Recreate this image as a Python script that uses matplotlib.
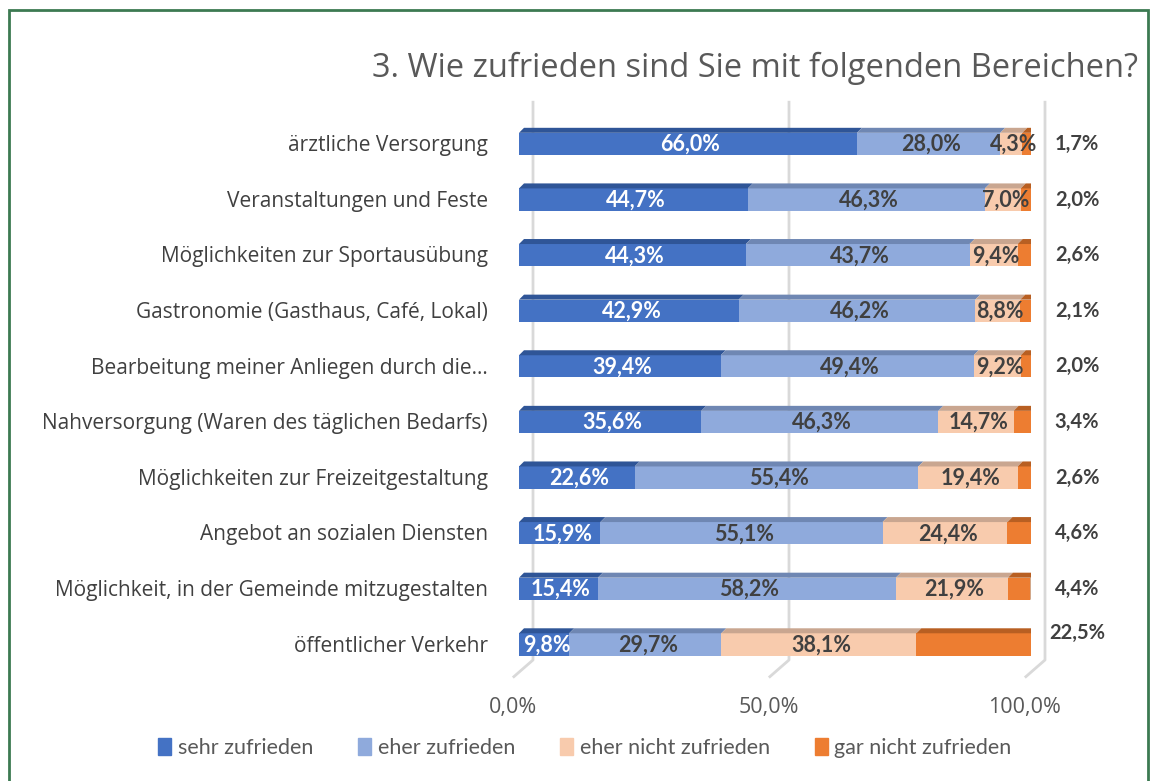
import numpy as np
import matplotlib
matplotlib.use("Agg")
import matplotlib.pyplot as plt
from matplotlib.patches import Patch, Rectangle

categories = [
    "ärztliche Versorgung",
    "Veranstaltungen und Feste",
    "Möglichkeiten zur Sportausübung",
    "Gastronomie (Gasthaus, Café, Lokal)",
    "Bearbeitung meiner Anliegen durch die…",
    "Nahversorgung (Waren des täglichen Bedarfs)",
    "Möglichkeiten zur Freizeitgestaltung",
    "Angebot an sozialen Diensten",
    "Möglichkeit, in der Gemeinde mitzugestalten",
    "öffentlicher Verkehr",
]
sehr = [66.0, 44.7, 44.3, 42.9, 39.4, 35.6, 22.6, 15.9, 15.4, 9.8]
eher = [28.0, 46.3, 43.7, 46.2, 49.4, 46.3, 55.4, 55.1, 58.2, 29.7]
eher_nicht = [4.3, 7.0, 9.4, 8.8, 9.2, 14.7, 19.4, 24.4, 21.9, 38.1]
gar_nicht = [1.7, 2.0, 2.6, 2.1, 2.0, 3.4, 2.6, 4.6, 4.4, 22.5]
series_names = ["sehr zufrieden", "eher zufrieden", "eher nicht zufrieden", "gar nicht zufrieden"]
ticks = [0, 50, 100]
tick_labels = ["0,0%", "50,0%", "100,0%"]

front = ["#4472C4", "#8FAADC", "#F8CBAD", "#ED7D31"]
top = ["#2F5597", "#6F87B3", "#C9A690", "#B85F22"]
side = "#A9561C"
label_col = ["white", "#404040", "#404040", "#404040"]

W, H = 1152, 781
fig = plt.figure(figsize=(W / 100, H / 100), dpi=100)
# axes: x 0..100 -> px 519..1031, y px 100..680
ax = fig.add_axes([519 / W, 1 - 680 / H, 512 / W, 580 / H])
n = len(categories)
y = np.arange(n)
ax.set_xlim(0, 100)
ax.set_ylim(9.64, -0.79)
ax.axis("off")

dx = 5 / 5.12      # depth offset in data units
dy = 5 / 55.6
bh = 0.40
wall = 14 / 5.12

# back wall gridlines
for t in ticks:
    ax.plot([t + wall, t + wall, t - 1.0], [-0.75, 9.28, 9.58], color="#D9D9D9", lw=2, zorder=0,
            clip_on=False)

data = np.array([sehr, eher, eher_nicht, gar_nicht])
left = np.zeros(n)
for k in range(4):
    vals = data[k]
    ax.barh(y, vals, left=left, height=bh, color=front[k], zorder=3)
    for i in range(n):
        x0, x1 = left[i], left[i] + vals[i]
        yt = y[i] - bh / 2
        ax.fill([x0, x1, x1 + dx, x0 + dx], [yt, yt, yt - dy, yt - dy], color=top[k], zorder=3, lw=0)
        if k == 3:
            yb = y[i] + bh / 2
            ax.fill([x1, x1 + dx, x1 + dx, x1], [yt, yt - dy, yb - dy, yb], color=side, zorder=3, lw=0)
            ax.text(109, y[i] - (0.2 if i == n - 1 else 0), f"{vals[i]:.1f}%".replace(".", ","),
                    ha="center", va="center", fontsize=14.5, fontweight="bold", color="#404040",
                    family="Lato", clip_on=False)
        else:
            ax.text((x0 + x1) / 2 + 0.5, y[i] + 0.01, f"{vals[i]:.1f}%".replace(".", ","),
                    ha="center", va="center", fontsize=15.5, fontweight="bold", color=label_col[k],
                    family="Lato", zorder=5)
    left = left + vals

# category labels
for i, c in enumerate(categories):
    ax.text(-6.1, y[i] + 0.03, c, ha="right", va="center", fontsize=15, color="#404040",
            family="Open Sans", clip_on=False)

# x tick labels
for t, lab in zip(ticks, tick_labels):
    ax.text(t - 1.2, 10.13, lab, ha="center", va="center", fontsize=15.5, color="#595959",
            family="Open Sans", clip_on=False)

fig.text(1138 / W, 1 - 68 / H, "3. Wie zufrieden sind Sie mit folgenden Bereichen?", ha="right",
         va="center", fontsize=23.5, color="#595959", family="Open Sans")

handles = [Patch(color=c) for c in front]
fig.legend(handles, series_names, loc="center", bbox_to_anchor=(585 / W, 1 - 748 / H), ncol=4,
           frameon=False, handlelength=0.6, handleheight=0.8, handletextpad=0.3, columnspacing=2.1,
           prop={"family": "Lato", "size": 15.5}, labelcolor="#595959")

# green chart border
fig.patches.append(Rectangle((9 / W, -0.05), 1139 / W, 1.05 - 10 / H, transform=fig.transFigure,
                             fill=False, edgecolor="#3C7A52", lw=2))

fig.savefig("out.png", dpi=100, facecolor="white")
